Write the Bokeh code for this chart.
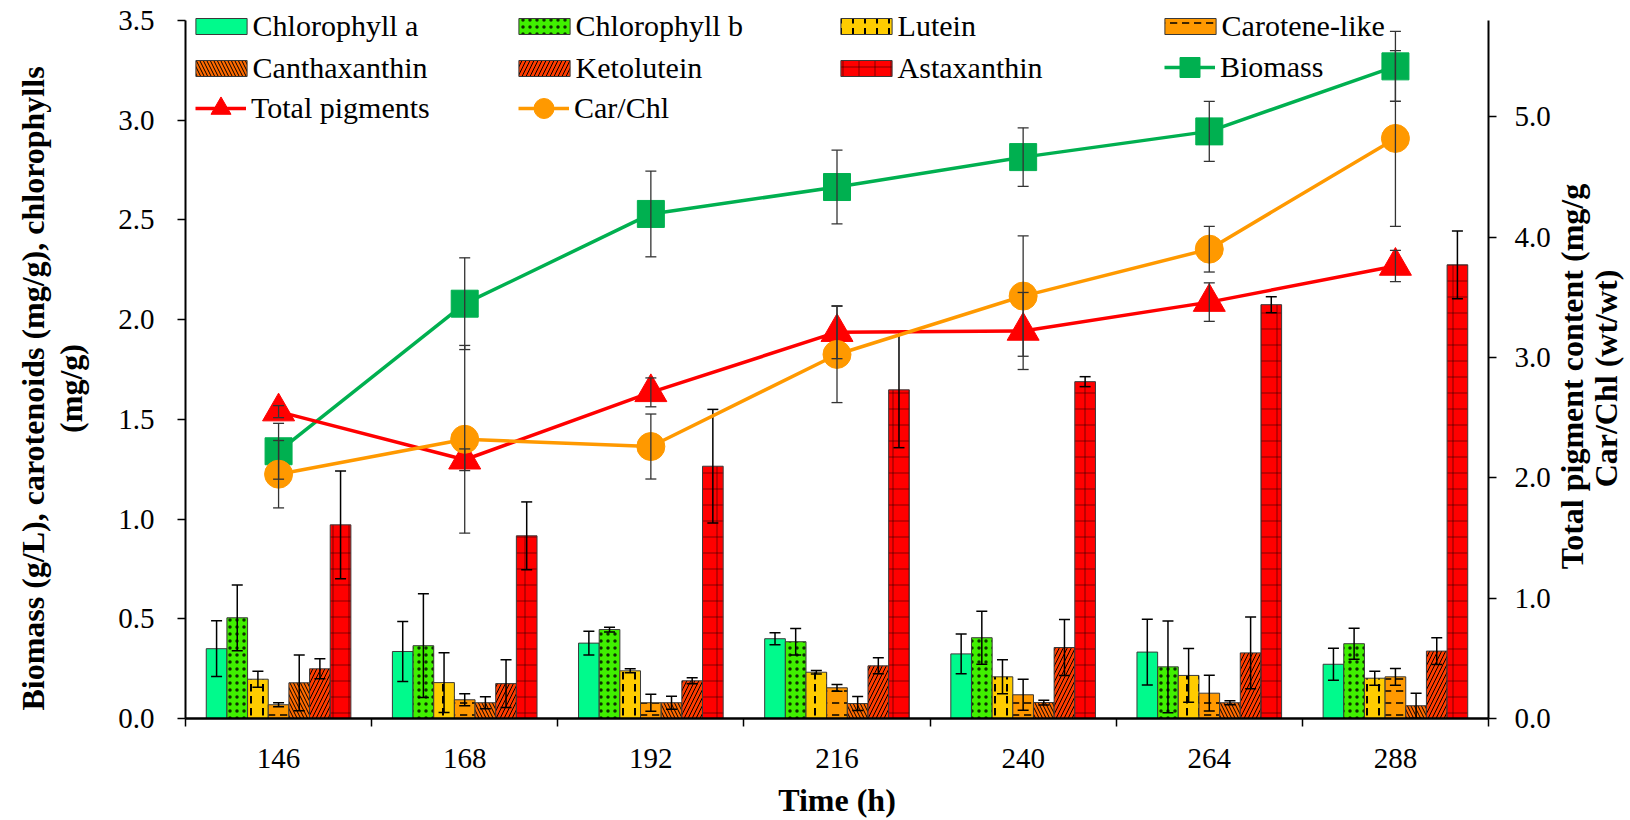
import math
from bokeh.plotting import figure
from bokeh.layouts import row
from bokeh.models import (Range1d, LinearAxis, FixedTicker, CustomJSTickFormatter,
                          NumeralTickFormatter, Legend, LegendItem, Label)
from bokeh.embed import file_html
from bokeh.resources import INLINE

# ---------------- data ----------------
times = ["146", "168", "192", "216", "240", "264", "288"]

chl_a = [0.350, 0.336, 0.378, 0.400, 0.324, 0.333, 0.272]
chl_a_err = [0.140, 0.150, 0.060, 0.030, 0.100, 0.165, 0.080]
chl_b = [0.505, 0.365, 0.446, 0.385, 0.405, 0.259, 0.375]
chl_b_err = [0.165, 0.260, 0.012, 0.066, 0.133, 0.230, 0.078]
lutein = [0.197, 0.180, 0.239, 0.232, 0.209, 0.216, 0.202]
lutein_err = [0.040, 0.150, 0.010, 0.009, 0.085, 0.135, 0.035]
carotene = [0.069, 0.094, 0.079, 0.154, 0.119, 0.127, 0.209]
carotene_err = [0.010, 0.030, 0.043, 0.017, 0.078, 0.090, 0.042]
cantha = [0.179, 0.079, 0.079, 0.075, 0.080, 0.079, 0.064]
cantha_err = [0.140, 0.030, 0.033, 0.035, 0.012, 0.010, 0.063]
keto = [0.249, 0.175, 0.189, 0.264, 0.356, 0.329, 0.338]
keto_err = [0.050, 0.120, 0.015, 0.040, 0.140, 0.180, 0.067]
asta = [0.971, 0.916, 1.265, 1.648, 1.689, 2.075, 2.275]
asta_err = [0.270, 0.170, 0.285, 0.290, 0.025, 0.040, 0.170]

biomass = [1.34, 2.08, 2.53, 2.665, 2.815, 2.944, 3.27]
biomass_err = [0.14, 0.23, 0.215, 0.185, 0.147, 0.15, 0.175]
total = [2.55, 2.15, 2.71, 3.21, 3.22, 3.46, 3.76]
total_err = [0.05, 0.09, 0.12, 0.22, 0.32, 0.16, 0.13]
carchl = [2.03, 2.32, 2.26, 3.025, 3.51, 3.90, 4.82]
carchl_err = [0.28, 0.78, 0.27, 0.40, 0.50, 0.19, 0.73]

left_ticks = [0.0, 0.5, 1.0, 1.5, 2.0, 2.5, 3.0, 3.5]
right_ticks = [0.0, 1.0, 2.0, 3.0, 4.0, 5.0]
LEFT_MAX, RIGHT_MAX = 3.5, 5.8

# ---------------- geometry (canvas pixels) ----------------
W, H = 1630, 820
FL, FR, FT, FB = 185, 1488, 20, 718      # plot area of the original
LW = 100                                  # left title strip
RX = 1553                                 # start of right title strip
SERIF = "Liberation Serif"
TICK_FONT = "29px"
LEG_FONT = "30px"
TITLE_FONT = "32px"

ext = (FB - 0) / (FB - FT)
p = figure(width=RX - LW, height=H,
           x_range=Range1d(0, len(times)), y_range=Range1d(0, LEFT_MAX * ext),
           output_backend="svg", toolbar_location=None,
           min_border_left=FL - LW, min_border_right=RX - FR, min_border_top=0,
           min_border_bottom=H - FB)
p.extra_y_ranges = {"right": Range1d(0, RIGHT_MAX * ext)}
p.grid.visible = False
p.outline_line_color = None
p.background_fill_color = "white"
p.border_fill_color = "white"

n = len(times)
xc = [i + 0.5 for i in range(n)]
bw = 0.111

# x axis
xa = p.xaxis[0]
xa.ticker = FixedTicker(ticks=xc, minor_ticks=list(range(n + 1)))
xa.formatter = CustomJSTickFormatter(args=dict(labels=times),
                                     code="return labels[Math.floor(tick)];")
xa.major_tick_line_color = None
xa.major_tick_out = 8
xa.minor_tick_out = 8
xa.minor_tick_in = 0
xa.minor_tick_line_color = "black"
xa.minor_tick_line_width = 1.5
xa.axis_line_width = 2.5
xa.axis_line_color = "black"
xa.major_label_standoff = 22
xa.major_label_text_font = SERIF
xa.major_label_text_font_size = TICK_FONT
xa.major_label_text_color = "black"
xa.axis_label = "Time (h)"
xa.axis_label_standoff = 11
xa.axis_label_text_font = SERIF
xa.axis_label_text_font_style = "bold"
xa.axis_label_text_font_size = TITLE_FONT
xa.axis_label_text_color = "black"

# left axis
ya = p.yaxis[0]
ya.ticker = FixedTicker(ticks=left_ticks)
ya.formatter = NumeralTickFormatter(format="0.0")
ya.bounds = (0, LEFT_MAX)
ya.major_tick_out = 8
ya.major_tick_in = 0
ya.minor_tick_line_color = None
ya.axis_line_width = 2
ya.major_tick_line_width = 1.5
ya.major_label_standoff = 23
ya.major_label_text_font = SERIF
ya.major_label_text_font_size = TICK_FONT
ya.major_label_text_color = "black"

ra = LinearAxis(y_range_name="right", ticker=FixedTicker(ticks=right_ticks),
                formatter=NumeralTickFormatter(format="0.0"), bounds=(0, RIGHT_MAX))
ra.major_tick_out = 8
ra.major_tick_in = 0
ra.minor_tick_line_color = None
ra.axis_line_width = 2
ra.major_tick_line_width = 1.5
ra.major_label_standoff = 18
ra.major_label_text_font = SERIF
ra.major_label_text_font_size = TICK_FONT
ra.major_label_text_color = "black"
p.add_layout(ra, "right")

# ---------------- bars ----------------
bar_series = [
    ("Chlorophyll a", chl_a, chl_a_err,
     dict(fill_color="#00FA8C")),
    ("Chlorophyll b", chl_b, chl_b_err,
     dict(fill_color="#40F000", hatch_pattern="dot", hatch_scale=7,
          hatch_weight=0.6, hatch_color="black", hatch_alpha=0.8)),
    ("Lutein", lutein, lutein_err,
     dict(fill_color="#FFCC00", hatch_pattern="vertical_dash", hatch_scale=12,
          hatch_weight=2, hatch_color="black")),
    ("Carotene-like", carotene, carotene_err,
     dict(fill_color="#FF9900", hatch_pattern="horizontal_dash", hatch_scale=12,
          hatch_weight=1.5, hatch_color="black")),
    ("Canthaxanthin", cantha, cantha_err,
     dict(fill_color="#FF6A00", hatch_pattern="left_diagonal_line", hatch_scale=7,
          hatch_weight=1, hatch_color="black")),
    ("Ketolutein", keto, keto_err,
     dict(fill_color="#FF3C00", hatch_pattern="right_diagonal_line", hatch_scale=8,
          hatch_weight=1, hatch_color="black")),
    ("Astaxanthin", asta, asta_err,
     dict(fill_color="#FF0000", hatch_pattern="cross", hatch_scale=16,
          hatch_weight=0.8, hatch_color="black", hatch_alpha=0.6)),
]

bar_renderers = {}
for j, (name, vals, errs, style) in enumerate(bar_series):
    xs = [x + (j - 3) * bw for x in xc]
    r = p.vbar(x=xs, top=vals, bottom=0, width=bw, line_color="#3a3a3a",
               line_width=1, **style)
    bar_renderers[name] = r

for j, (name, vals, errs, style) in enumerate(bar_series):
    xs = [x + (j - 3) * bw for x in xc]
    lo = [v - e for v, e in zip(vals, errs)]
    hi = [v + e for v, e in zip(vals, errs)]
    p.segment(x0=xs, y0=lo, x1=xs, y1=hi, line_color="black", line_width=1.5)
    p.scatter(x=xs + xs, y=lo + hi, marker="dash", size=11, line_color="black",
              line_width=1.5)

# ---------------- lines ----------------
r_bl = p.line(xc, biomass, line_color="#00B050", line_width=3.5)
r_bs = p.scatter(xc, biomass, marker="square", size=27, fill_color="#00B050",
                 line_color="#00B050")
r_tl = p.line(xc, total, line_color="#FF0000", line_width=3.5, y_range_name="right")
r_ts = p.scatter(xc, total, marker="triangle", size=32, fill_color="#FF0000",
                 line_color="#FF0000", y_range_name="right")
r_cl = p.line(xc, carchl, line_color="#FF9900", line_width=3.5, y_range_name="right")
r_cs = p.scatter(xc, carchl, marker="circle", size=28, fill_color="#FF9900",
                 line_color="#FF9900", y_range_name="right")

for vals, errs, rng in [(biomass, biomass_err, "default"),
                        (total, total_err, "right"),
                        (carchl, carchl_err, "right")]:
    lo = [v - e for v, e in zip(vals, errs)]
    hi = [v + e for v, e in zip(vals, errs)]
    p.segment(x0=xc, y0=lo, x1=xc, y1=hi, line_color="#333333", line_width=1.3,
              y_range_name=rng)
    p.scatter(x=xc + xc, y=lo + hi, marker="dash", size=11, line_color="#333333",
              line_width=1.3, y_range_name=rng)

# ---------------- legend (one per entry, placed like the original) ----------------
row_y = [25, 67, 108]
col_x = [195, 518, 840, 1164]      # left edge of each legend swatch


def add_item(label, renderers, col, row_i, kind):
    if kind == "bar":
        gw, gh, standoff = 64, 20, 0
        vx = col_x[col] - gw * 0.1 - FL
    else:
        gw, gh, standoff = 51, 50, 5
        vx = col_x[col] - FL
    item_h = max(gh, 35)
    vy = FB - (row_y[row_i] + item_h / 2)
    leg = Legend(items=[LegendItem(label=label, renderers=renderers)],
                 location=(vx, vy), orientation="vertical",
                 padding=0, margin=0, spacing=0,
                 border_line_color=None, background_fill_alpha=0,
                 glyph_width=gw, glyph_height=gh, label_height=gh,
                 label_standoff=standoff,
                 label_text_font=SERIF, label_text_font_size=LEG_FONT,
                 label_text_color="black")
    p.add_layout(leg)


add_item("Chlorophyll a", [bar_renderers["Chlorophyll a"]], 0, 0, "bar")
add_item("Chlorophyll b", [bar_renderers["Chlorophyll b"]], 1, 0, "bar")
add_item("Lutein", [bar_renderers["Lutein"]], 2, 0, "bar")
add_item("Carotene-like", [bar_renderers["Carotene-like"]], 3, 0, "bar")
add_item("Canthaxanthin", [bar_renderers["Canthaxanthin"]], 0, 1, "bar")
add_item("Ketolutein", [bar_renderers["Ketolutein"]], 1, 1, "bar")
add_item("Astaxanthin", [bar_renderers["Astaxanthin"]], 2, 1, "bar")
add_item("Biomass", [r_bl, r_bs], 3, 1, "line")
add_item("Total pigments", [r_tl, r_ts], 0, 2, "line")
add_item("Car/Chl", [r_cl, r_cs], 1, 2, "line")


# ---------------- side strips carrying the rotated axis titles ----------------
# In a row, the strips' frames are aligned with the main frame (canvas y 0..FB),
# so their y range is chosen to map data y = H - canvas_y.
def strip(width):
    s = figure(width=width, height=H, x_range=Range1d(0, width),
               y_range=Range1d(H - FB, H),
               output_backend="svg", toolbar_location=None, min_border=0,
               x_axis_type=None, y_axis_type=None)
    s.grid.visible = False
    s.outline_line_color = None
    s.background_fill_color = "white"
    s.border_fill_color = "white"
    return s


def vtitle(s, x0, text, cx, cy, size):
    s.add_layout(Label(x=cx - x0, y=H - cy, text=text, angle=math.pi / 2,
                       text_align="center", text_baseline="middle",
                       text_font=SERIF, text_font_style="bold",
                       text_font_size=size, text_color="black"))


left_strip = strip(LW)
vtitle(left_strip, 0, "Biomass (g/L), carotenoids (mg/g), chlorophylls", 32, 388, TITLE_FONT)
vtitle(left_strip, 0, "(mg/g)", 70, 388, TITLE_FONT)

right_strip = strip(W - RX)
vtitle(right_strip, RX, "Total pigment content (mg/g", 1571, 376, TITLE_FONT)
vtitle(right_strip, RX, "Car/Chl (wt/wt)", 1605, 378, TITLE_FONT)

layout = row(left_strip, p, right_strip, spacing=0)
open("out.html", "w").write(file_html(layout, INLINE))
